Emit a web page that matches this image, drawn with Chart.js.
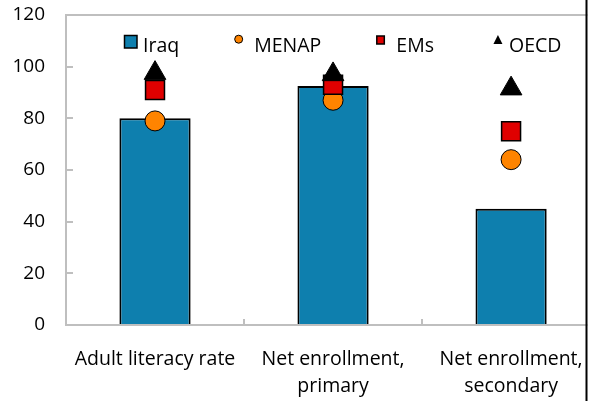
<!DOCTYPE html>
<html><head><meta charset="utf-8">
<script src="https://cdn.jsdelivr.net/npm/chart.js@4.4.1/dist/chart.umd.min.js"></script>
<style>html,body{margin:0;padding:0;background:#fff;overflow:hidden;width:593px;height:401px;}canvas{display:block;}</style>
</head><body>
<div id="wrap"></div>
<script>
const categories = [['Adult literacy rate'], ['Net enrollment,', 'primary'], ['Net enrollment,', 'secondary']];
const iraq  = [80, 92.5, 45];
const menap = [79, 87, 64];
const ems   = [91, 93, 75];
const oecd  = [97.5, 97, 91.5];
const seriesNames = ['Iraq', 'MENAP', 'EMs', 'OECD'];
const yMin = 0, yMax = 120, yStep = 20;

const VIEW_W = 593, VIEW_H = 401, PLOT_RIGHT = 600;
const BLUE = '#0E7FAE', ORANGE = '#FF8400', RED = '#E00000', BLACK = '#000000', AXIS = '#BFBFBF';
const FONT = "'Open Sans', sans-serif";

const legendMarkers = {
  Iraq(g, ts, top) {
    g.fillStyle = BLUE; g.strokeStyle = '#000'; g.lineWidth = 1.5;
    g.fillRect(ts - 18.5, top + 20.5, 12.5, 12.5); g.strokeRect(ts - 18.5, top + 20.5, 12.5, 12.5);
  },
  MENAP(g, ts, top) {
    g.fillStyle = ORANGE; g.strokeStyle = '#000'; g.lineWidth = 1;
    g.beginPath(); g.arc(ts - 15.5, top + 24.2, 4, 0, Math.PI * 2); g.fill(); g.stroke();
  },
  EMs(g, ts, top) {
    g.fillStyle = RED; g.strokeStyle = '#000'; g.lineWidth = 1.5;
    g.fillRect(ts - 19.5, top + 21, 7.5, 8); g.strokeRect(ts - 19.5, top + 21, 7.5, 8);
  },
  OECD(g, ts, top) {
    g.fillStyle = '#000';
    g.beginPath(); g.moveTo(ts - 11, top + 20); g.lineTo(ts - 6.5, top + 29); g.lineTo(ts - 15.5, top + 29);
    g.closePath(); g.fill();
  }
};

const decor = {
  id: 'decor',
  afterDraw(chart) {
    const ctx = chart.ctx, y = chart.scales.y, x = chart.scales.x, ca = chart.chartArea;
    ctx.save();
    ctx.strokeStyle = AXIS; ctx.lineWidth = 2;
    y.ticks.forEach(t => {
      if (t.value === yMin || t.value === yMax) return;
      const py = Math.round(y.getPixelForValue(t.value));
      ctx.beginPath(); ctx.moveTo(ca.left, py); ctx.lineTo(ca.left + 7, py); ctx.stroke();
    });
    for (let i = 0; i < categories.length - 1; i++) {
      const px = Math.round((x.getPixelForValue(i) + x.getPixelForValue(i + 1)) / 2);
      ctx.beginPath(); ctx.moveTo(px, ca.bottom); ctx.lineTo(px, ca.bottom - 6); ctx.stroke();
    }
    ctx.font = '19.5px ' + FONT;
    ctx.textBaseline = 'alphabetic'; ctx.textAlign = 'left';
    let ts = ca.left + 77;
    seriesNames.forEach(n => {
      legendMarkers[n](ctx, ts, ca.top);
      ctx.fillStyle = '#000';
      ctx.fillText(n, ts, ca.top + 37.3);
      ts += ctx.measureText(n).width + 75;
    });
    ctx.fillStyle = '#fff';
    ctx.fillRect(VIEW_W - 5.5, 0, chart.width, chart.height);
    ctx.fillStyle = '#000';
    ctx.fillRect(VIEW_W - 7.5, 0, 2, chart.height);
    ctx.restore();
  }
};

function makeConfig() {
  return {
    data: {
      labels: categories,
      datasets: [
        { type: 'bar', label: seriesNames[0], data: iraq, backgroundColor: BLUE, borderColor: BLACK, borderWidth: 2,
          barPercentage: 0.4, categoryPercentage: 1, order: 4 },
        { type: 'line', label: seriesNames[1], data: menap, showLine: false, pointStyle: 'circle', pointRadius: 10, pointHoverRadius: 10,
          pointBackgroundColor: ORANGE, pointBorderColor: BLACK, pointBorderWidth: 1, order: 3, clip: false },
        { type: 'line', label: seriesNames[2], data: ems, showLine: false, pointStyle: 'rect', pointRadius: 13.4, pointHoverRadius: 13.4,
          pointBackgroundColor: RED, pointBorderColor: BLACK, pointBorderWidth: 1.5, order: 2, clip: false },
        { type: 'line', label: seriesNames[3], data: oecd, showLine: false, pointStyle: 'triangle', pointRadius: 12.5, pointHoverRadius: 12.5,
          pointBackgroundColor: BLACK, pointBorderColor: BLACK, pointBorderWidth: 1, order: 1, clip: false }
      ]
    },
    options: {
      responsive: false,
      maintainAspectRatio: false,
      devicePixelRatio: 1,
      animation: false,
      events: [],
      layout: { padding: { top: 15, left: 0, right: 1, bottom: 0 } },
      plugins: {
        tooltip: { enabled: false },
        legend: { display: false }
      },
      scales: {
        x: {
          type: 'category',
          offset: true,
          grid: { display: false, drawTicks: false },
          border: { display: true, color: AXIS, width: 2 },
          ticks: { color: '#000', font: { family: FONT, size: 19.5, lineHeight: '27px' }, padding: 21,
                   maxRotation: 0, autoSkip: false },
          afterFit: s => { s.height = 76; s.paddingLeft = 0; s.paddingRight = 0; }
        },
        y: {
          min: yMin, max: yMax,
          grid: { color: c => (c.tick && c.tick.value === yMax) ? AXIS : 'rgba(0,0,0,0)', lineWidth: 2, drawTicks: false },
          border: { display: true, color: AXIS, width: 2 },
          ticks: { stepSize: yStep, color: '#000', font: { family: FONT, size: 19 }, padding: 21 },
          afterFit: s => { s.width = 66; s.paddingTop = 0; s.paddingBottom = 0; }
        }
      }
    },
    plugins: [decor]
  };
}

function build(w) {
  const wrap = document.getElementById('wrap');
  wrap.innerHTML = '';
  const cv = document.createElement('canvas');
  cv.width = w; cv.height = VIEW_H;
  wrap.appendChild(cv);
  return new Chart(cv, makeConfig());
}

let chart = build(601);
const deficit = PLOT_RIGHT - chart.chartArea.right;
if (Math.abs(deficit) > 0.5) {
  chart.destroy();
  chart = build(Math.round(601 + deficit));
}
</script>
</body></html>
